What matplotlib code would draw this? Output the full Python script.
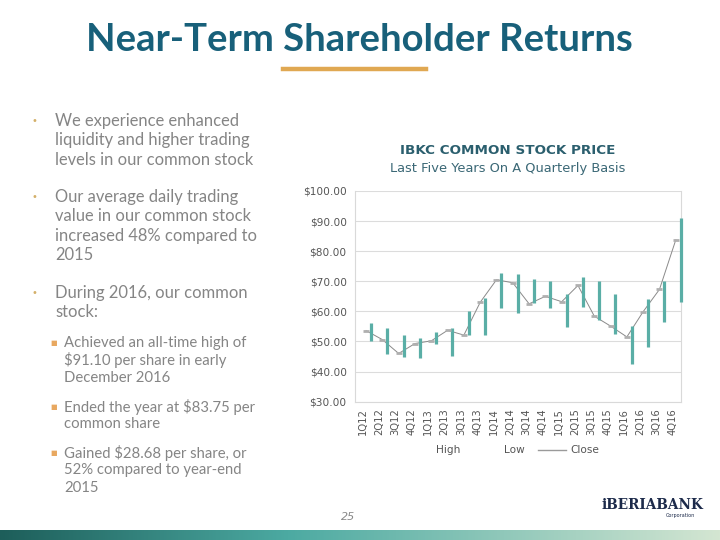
import matplotlib
matplotlib.use("Agg")
import matplotlib.pyplot as plt
import numpy as np
from matplotlib.lines import Line2D

quarters = ["1Q12", "2Q12", "3Q12", "4Q12", "1Q13", "2Q13", "3Q13", "4Q13",
            "1Q14", "2Q14", "3Q14", "4Q14", "1Q15", "2Q15", "3Q15", "4Q15",
            "1Q16", "2Q16", "3Q16", "4Q16"]
high = [56.0, 54.3, 52.1, 51.0, 53.0, 54.6, 60.0, 64.3, 72.7, 72.4,
        70.7, 70.2, 65.9, 71.5, 70.1, 65.6, 55.0, 64.2, 70.0, 91.1]
low = [50.1, 45.9, 44.7, 44.5, 49.1, 45.0, 52.0, 52.0, 61.2, 59.4,
       62.7, 61.0, 54.7, 61.4, 57.0, 52.4, 42.5, 48.3, 56.6, 63.0]
close = [53.6, 50.6, 46.0, 49.3, 50.2, 53.7, 52.1, 63.0, 70.5, 69.5,
         62.5, 65.0, 63.2, 68.6, 58.4, 55.1, 51.5, 59.9, 67.3, 83.75]
yticks = [30, 40, 50, 60, 70, 80, 90, 100]

W, H = 720, 540
fig = plt.figure(figsize=(7.2, 5.4), dpi=100)
fig.patch.set_facecolor("white")

def fx(x):
    return x / W

def fy(y):
    return 1 - y / H

# Title
fig.text(fx(359), fy(40), "Near-Term Shareholder Returns", ha="center", va="center",
         fontsize=27.5, fontweight="bold", color="#18607a", family="Lato")
fig.add_artist(Line2D([fx(283), fx(426)], [fy(68.5), fy(68.5)], color="#e0a852", lw=3.2))

# Left bullet text
grey = "#858585"
main_items = [
    (121, ["We experience enhanced", "liquidity and higher trading", "levels in our common stock"]),
    (197, ["Our average daily trading", "value in our common stock", "increased 48% compared to", "2015"]),
    (293, ["During 2016, our common", "stock:"]),
]
for y0, lines in main_items:
    fig.text(fx(34), fy(y0), "•", ha="center", va="center", fontsize=7, color="#d4b06a")
    for k, ln in enumerate(lines):
        fig.text(fx(55), fy(y0 + 19.3 * k), ln, ha="left", va="center",
                 fontsize=11.9, color=grey, family="Lato")

sub_items = [
    (343, ["Achieved an all-time high of", "$91.10 per share in early", "December 2016"]),
    (407, ["Ended the year at $83.75 per", "common share"]),
    (453, ["Gained $28.68 per share, or", "52% compared to year-end", "2015"]),
]
for y0, lines in sub_items:
    fig.text(fx(54), fy(y0), "■", ha="center", va="center", fontsize=5, color="#e8a860")
    for k, ln in enumerate(lines):
        fig.text(fx(64), fy(y0 + 17.3 * k), ln, ha="left", va="center",
                 fontsize=10.7, color=grey, family="Lato")

# Chart titles
fig.text(fx(508), fy(151), "IBKC COMMON STOCK PRICE", ha="center", va="center",
         fontsize=9.7, fontweight="bold", color="#2b5f6e", family="DejaVu Sans")
fig.text(fx(508), fy(169), "Last Five Years On A Quarterly Basis", ha="center", va="center",
         fontsize=9.4, color="#3b6876", family="DejaVu Sans")

# Chart axes
left, right, top, bottom = 355, 681, 191, 401.6
ax = fig.add_axes([fx(left), fy(bottom), fx(right - left), (bottom - top) / H])
ax.set_xlim(0, len(quarters))
ax.set_ylim(30, 100)
ax.set_yticks(yticks)
ax.set_yticklabels([f"${v:.2f}" for v in yticks], fontsize=7.6, color="#555555",
                   family="DejaVu Sans")
ax.set_xticks(np.arange(len(quarters)) + 0.5)
ax.set_xticklabels(quarters, rotation=90, fontsize=7.2, color="#555555",
                   family="DejaVu Sans")
ax.tick_params(length=0, pad=6)
ax.tick_params(axis="x", pad=5)
ax.spines["top"].set_visible(False)
for s in ["left", "right", "bottom"]:
    ax.spines[s].set_color("#d9d9d9")
    ax.spines[s].set_linewidth(0.8)
ax.grid(axis="y", color="#dcdcdc", lw=0.8)
ax.set_axisbelow(True)

xi = np.arange(len(quarters))
bar_x = xi + 0.98
close_x = xi + 0.68
ax.vlines(bar_x, low, high, color="#5aaea6", lw=2.3, clip_on=False, zorder=3)
ax.plot(close_x, close, color="#8a8a8a", lw=0.7, zorder=2)
ax.plot(close_x, close, ls="none", marker="_", ms=5, mew=2.0, color="#b0b0b0", zorder=4)

# Legend
fig.text(fx(448), fy(450), "High", ha="center", va="center", fontsize=7.6,
         color="#555555", family="DejaVu Sans")
fig.text(fx(514), fy(450), "Low", ha="center", va="center", fontsize=7.6,
         color="#555555", family="DejaVu Sans")
fig.add_artist(Line2D([fx(538), fx(566)], [fy(450), fy(450)], color="#9a9a9a", lw=1))
fig.text(fx(570), fy(450), "Close", ha="left", va="center", fontsize=7.6,
         color="#555555", family="DejaVu Sans")

# Page number
fig.text(fx(348), fy(517), "25", ha="center", va="center", fontsize=8,
         color="#888888", style="italic", family="DejaVu Sans")

# Logo
fig.text(fx(652), fy(505), "iBERIABANK", ha="center", va="center", fontsize=9.8,
         fontweight="bold", color="#1c2a4a", family="DejaVu Serif")
fig.text(fx(680), fy(515), "Corporation", ha="center", va="center", fontsize=3.5,
         color="#1c2a4a", family="DejaVu Sans")

# Bottom gradient band
gax = fig.add_axes([0, 0, 1, 10 / H])
gax.axis("off")
c0 = np.array([0x1d, 0x5e, 0x5a]) / 255
c1 = np.array([0x4c, 0xaa, 0xa2]) / 255
c2 = np.array([0xd4, 0xe6, 0xd2]) / 255
n = 400
t = np.linspace(0, 1, n)
cols = np.zeros((1, n, 3))
for i, tt in enumerate(t):
    if tt < 0.4:
        a = tt / 0.4
        cols[0, i] = c0 * (1 - a) + c1 * a
    else:
        a = (tt - 0.4) / 0.6
        cols[0, i] = c1 * (1 - a) + c2 * a
gax.imshow(cols, aspect="auto", extent=[0, 1, 0, 1])
gax.set_xlim(0, 1)
gax.set_ylim(0, 1)

fig.savefig("out.png", dpi=100, facecolor="white")
